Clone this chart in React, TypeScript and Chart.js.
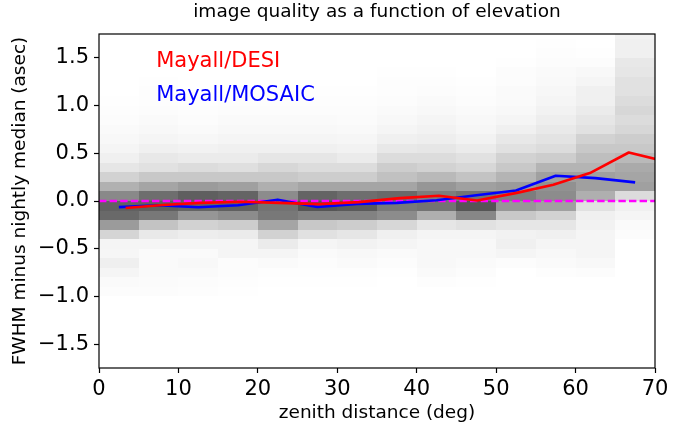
import React, { useEffect, useRef } from "react";
import { Chart, registerables } from "chart.js";

Chart.register(...registerables);

// ---- data ----
const zenithBinStarts = [0, 5, 10, 15, 20, 25, 30, 35, 40, 45, 50, 55, 60, 65];
const zenithBinWidth = 5;
const deltaBinEdges = [
  -1.0, -0.9, -0.8, -0.7, -0.6, -0.5, -0.4, -0.3, -0.2, -0.1,
  0.0, 0.1, 0.2, 0.3, 0.4, 0.5, 0.6, 0.7, 0.8, 0.9,
  1.0, 1.1, 1.2, 1.3, 1.4, 1.5, 1.6, 1.7, 1.8,
];
// 2D histogram density (darkness) per zenith bin, rows from -1.0 upward in 0.1 steps
const histDensity: number[][] = [
  [3, 5, 10, 16, 9, 10, 42, 100, 150, 158, 118, 78, 45, 25, 15, 10, 7, 5, 3, 2, 1, 0, 0, 0, 0, 0, 0, 0],
  [3, 4, 5, 5, 5, 10, 22, 60, 135, 160, 145, 90, 55, 30, 23, 15, 10, 7, 5, 3, 2, 2, 1, 0, 0, 0, 0, 0],
  [2, 3, 5, 7, 5, 10, 18, 45, 105, 155, 160, 100, 55, 35, 20, 13, 8, 5, 3, 2, 1, 0, 0, 0, 0, 0, 0, 0],
  [1, 2, 3, 3, 10, 10, 20, 50, 115, 160, 155, 95, 55, 32, 20, 15, 10, 7, 5, 3, 2, 1, 0, 0, 0, 0, 0, 0],
  [0, 1, 2, 5, 10, 20, 45, 90, 135, 140, 115, 80, 55, 40, 25, 15, 10, 7, 5, 3, 2, 1, 0, 0, 0, 0, 0, 0],
  [0, 1, 2, 3, 5, 10, 30, 55, 125, 170, 155, 90, 50, 35, 25, 15, 10, 7, 5, 3, 2, 1, 0, 0, 0, 0, 0, 0],
  [0, 1, 2, 5, 7, 13, 25, 50, 125, 165, 145, 90, 50, 35, 20, 13, 9, 6, 4, 3, 2, 1, 0, 0, 0, 0, 0, 0],
  [0, 0, 1, 3, 5, 10, 15, 40, 115, 135, 150, 90, 62, 50, 35, 23, 15, 10, 7, 5, 3, 2, 2, 1, 0, 0, 0, 0],
  [0, 2, 5, 7, 7, 7, 10, 25, 80, 140, 130, 105, 70, 45, 35, 25, 17, 13, 10, 7, 5, 3, 2, 1, 0, 0, 0, 0],
  [0, 1, 3, 5, 7, 7, 10, 30, 120, 170, 140, 95, 60, 40, 30, 20, 13, 9, 7, 5, 3, 2, 1, 0, 0, 0, 0, 0],
  [0, 0, 0, 3, 10, 15, 13, 25, 55, 105, 130, 100, 75, 55, 45, 30, 23, 15, 10, 7, 5, 5, 3, 3, 1, 0, 0, 0],
  [0, 0, 2, 5, 7, 10, 15, 25, 45, 95, 115, 110, 95, 75, 50, 35, 28, 22, 17, 13, 10, 8, 6, 5, 3, 2, 1, 0],
  [0, 0, 3, 7, 10, 10, 10, 13, 15, 30, 80, 95, 95, 75, 65, 55, 45, 30, 25, 20, 15, 15, 10, 7, 3, 1, 0, 0],
  [0, 0, 0, 0, 0, 0, 3, 5, 10, 15, 35, 95, 90, 85, 70, 55, 50, 40, 35, 40, 35, 30, 30, 25, 23, 15, 15, 13],
];

const desiZenith = [3.35, 8.0, 12.8, 17.8, 22.7, 27.7, 32.7, 37.9, 42.8, 47.6, 52.6, 57.2, 61.8, 66.7, 71.5];
const desiDelta = [-0.073, -0.042, -0.02, -0.008, -0.02, -0.033, -0.012, 0.03, 0.055, 0.006, 0.085, 0.17, 0.293, 0.508, 0.41];

const mosaicZenith = [2.5, 7.5, 12.5, 17.5, 22.5, 27.5, 32.5, 37.5, 42.5, 47.5, 52.5, 57.5, 62.5, 67.5];
const mosaicDelta = [-0.064, -0.045, -0.066, -0.045, 0.014, -0.063, -0.03, -0.02, 0.008, 0.06, 0.11, 0.265, 0.24, 0.195];

const zeroLineZenith = [0, 70];
const zeroLineDelta = [0, 0];

const xTickValues = [0, 10, 20, 30, 40, 50, 60, 70];
const yTickValues = [-1.5, -1.0, -0.5, 0.0, 0.5, 1.0, 1.5];

const labelDesi = "Mayall/DESI";
const labelMosaic = "Mayall/MOSAIC";

const FONT = "DejaVu Sans";

const toPoints = (xs: number[], ys: number[]) => xs.map((x, i) => ({ x, y: ys[i] }));

const histPlugin = {
  id: "hist2d",
  beforeDatasetsDraw(chart: any) {
    const { ctx, chartArea, scales } = chart;
    const xs = scales.x;
    const ys = scales.y;
    ctx.save();
    ctx.beginPath();
    ctx.rect(chartArea.left, chartArea.top, chartArea.right - chartArea.left, chartArea.bottom - chartArea.top);
    ctx.clip();
    zenithBinStarts.forEach((z0, i) => {
      const x0 = Math.round(xs.getPixelForValue(z0));
      const x1 = Math.round(xs.getPixelForValue(z0 + zenithBinWidth));
      histDensity[i].forEach((d, j) => {
        if (d <= 0) return;
        const yTop = Math.round(ys.getPixelForValue(deltaBinEdges[j + 1]));
        const yBot = Math.round(ys.getPixelForValue(deltaBinEdges[j]));
        const g = Math.round(255 - d);
        ctx.fillStyle = `rgb(${g},${g},${g})`;
        ctx.fillRect(x0, yTop, x1 - x0, yBot - yTop);
      });
    });
    ctx.restore();
  },
};

const overlayPlugin = {
  id: "overlay",
  afterDatasetsDraw(chart: any) {
    const { ctx, scales } = chart;
    ctx.save();
    ctx.font = `21px "${FONT}"`;
    ctx.textBaseline = "alphabetic";
    ctx.textAlign = "left";
    ctx.fillStyle = "#ff0000";
    ctx.fillText(labelDesi, scales.x.getPixelForValue(7.2), scales.y.getPixelForValue(1.4));
    ctx.fillStyle = "#0000ff";
    ctx.fillText(labelMosaic, scales.x.getPixelForValue(7.2), scales.y.getPixelForValue(1.05));
    ctx.restore();
  },
  afterDraw(chart: any) {
    const { ctx, chartArea } = chart;
    ctx.save();
    ctx.strokeStyle = "#000";
    ctx.lineWidth = 1.2;
    ctx.strokeRect(chartArea.left, chartArea.top, chartArea.right - chartArea.left, chartArea.bottom - chartArea.top);
    ctx.restore();
  },
};

export default function App() {
  const canvasRef = useRef<HTMLCanvasElement | null>(null);

  useEffect(() => {
    document.body.style.margin = "0";
    const canvas = canvasRef.current;
    if (!canvas) return;
    Chart.defaults.font.family = FONT;
    Chart.defaults.color = "#000";

    const chart = new Chart(canvas, {
      type: "line",
      data: {
        datasets: [
          {
            label: labelDesi,
            data: toPoints(desiZenith, desiDelta),
            borderColor: "#ff0000",
            borderWidth: 2.6,
            pointRadius: 0,
            fill: false,
            tension: 0,
            borderJoinStyle: "round",
            clip: 0,
          } as any,
          {
            label: labelMosaic,
            data: toPoints(mosaicZenith, mosaicDelta),
            borderColor: "#0000ff",
            borderWidth: 2.6,
            pointRadius: 0,
            fill: false,
            tension: 0,
            borderJoinStyle: "round",
            clip: 0,
          } as any,
          {
            label: "zero",
            data: toPoints(zeroLineZenith, zeroLineDelta),
            borderColor: "#ff00ff",
            borderWidth: 2.6,
            borderDash: [7.4, 3.2],
            pointRadius: 0,
            fill: false,
            clip: 0,
          } as any,
        ],
      },
      options: {
        animation: false,
        responsive: true,
        maintainAspectRatio: false,
        layout: { padding: { left: 0, right: 26, top: 0, bottom: 0 } },
        plugins: {
          legend: { display: false },
          tooltip: { enabled: false },
          title: {
            display: true,
            text: "image quality as a function of elevation",
            fullSize: false,
            color: "#000",
            font: { family: FONT, size: 18.5, weight: "normal", lineHeight: 1 },
            padding: { top: 3, bottom: 12.5 },
          },
        },
        scales: {
          x: {
            type: "linear",
            min: 0,
            max: 70,
            afterFit: (s: any) => {
              s.height = 68;
            },
            afterBuildTicks: (s: any) => {
              s.ticks = xTickValues.map((v) => ({ value: v }));
            },
            ticks: {
              font: { family: FONT, size: 21 },
              color: "#000",
              padding: 3.5,
              maxRotation: 0,
              autoSkip: false,
              callback: (v: any) => String(v),
            },
            grid: {
              display: true,
              drawOnChartArea: false,
              drawTicks: true,
              tickLength: 5,
              tickColor: "#000",
              tickWidth: 1.2,
            },
            border: { display: false },
            title: {
              display: true,
              text: "zenith distance (deg)",
              color: "#000",
              font: { family: FONT, size: 18.5 },
              padding: { top: 0, bottom: 11.6 },
            },
          },
          y: {
            type: "linear",
            min: -1.75,
            max: 1.75,
            afterFit: (s: any) => {
              s.width = 99;
            },
            afterBuildTicks: (s: any) => {
              s.ticks = yTickValues.map((v) => ({ value: v }));
            },
            ticks: {
              font: { family: FONT, size: 21 },
              color: "#000",
              padding: 5,
              autoSkip: false,
              callback: (v: any) => {
                const n = Number(v);
                const s = Math.abs(n).toFixed(1);
                return n < 0 ? "\u2212" + s : s;
              },
            },
            grid: {
              display: true,
              drawOnChartArea: false,
              drawTicks: true,
              tickLength: 5,
              tickColor: "#000",
              tickWidth: 1.2,
            },
            border: { display: false },
            title: {
              display: true,
              text: "FWHM minus nightly median (asec)",
              color: "#000",
              font: { family: FONT, size: 18.5 },
              padding: { top: 9, bottom: 0 },
            },
          },
        },
      },
      plugins: [histPlugin, overlayPlugin],
    });

    return () => {
      chart.destroy();
    };
  }, []);

  return (
    <div style={{ position: "relative", width: "681px", height: "436px" }}>
      <canvas ref={canvasRef} />
    </div>
  );
}
